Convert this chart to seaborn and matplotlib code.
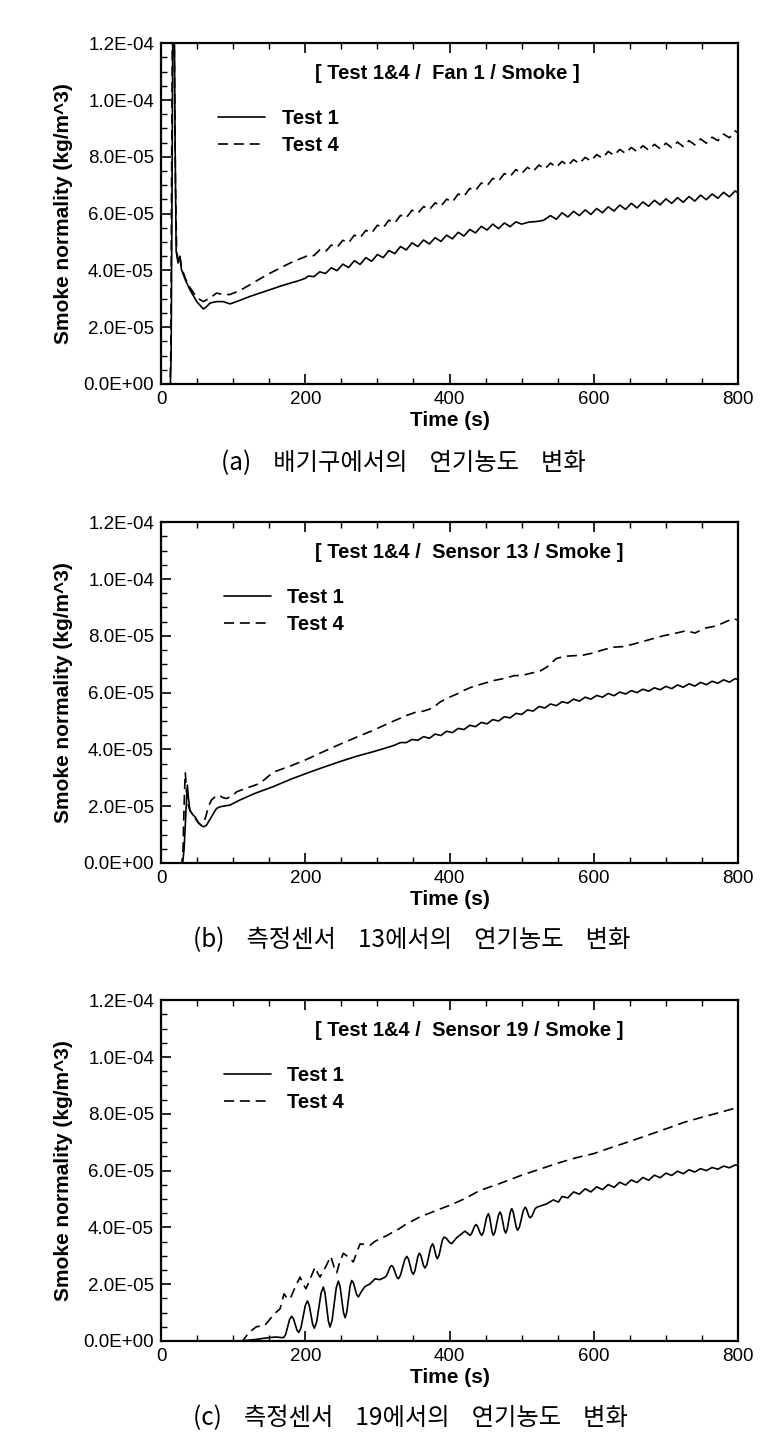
import matplotlib
matplotlib.use("Agg")
import matplotlib.pyplot as plt
from matplotlib.ticker import MultipleLocator, FuncFormatter
import pandas as pd
import seaborn as sns

# smoke values below are written in units of 1E-05 kg/m^3
UNIT = 1e-5

# --- (a) Fan 1 ---
FAN1_T1_TIME = [0, 13, 14, 15.5, 16.5, 17.5, 18.5, 19.5, 21, 23.6, 26, 28.4, 34, 40, 49.5, 58.7, 63, 68, 77, 86,
                95.7, 110, 123, 137, 151, 165, 179, 190, 200,
                204, 212, 220, 228, 236, 244, 252, 260, 268, 276, 284, 292, 300, 308, 316, 324, 332, 340, 348, 356,
                364, 372, 380, 388, 396, 404, 412, 420, 428, 436, 444, 452, 460, 468, 476, 484, 492, 500,
                510, 520, 530,
                540, 548, 556, 564, 572, 580, 588, 596, 604, 612, 620, 628, 636, 644, 652, 660, 668, 676, 684, 692,
                700, 708, 716, 724, 732, 740, 748, 756, 764, 772, 780, 788, 796, 800]
FAN1_T1_SMOKE = [0, 0, 1.0, 8.0, 13.5, 15.0, 12.5, 8.5, 4.67, 4.26, 4.5, 4.02, 3.65, 3.32, 2.9, 2.64, 2.72, 2.85, 2.9, 2.9,
                 2.82, 2.95, 3.08, 3.2, 3.32, 3.44, 3.55, 3.63, 3.72,
                 3.80, 3.78, 3.95, 3.89, 4.09, 3.99, 4.22, 4.10, 4.34, 4.21, 4.45, 4.32, 4.56, 4.45, 4.70, 4.59, 4.84, 4.72, 4.97, 4.84,
                 5.07, 4.93, 5.15, 5.02, 5.24, 5.11, 5.34, 5.21, 5.44, 5.32, 5.55, 5.42, 5.63, 5.47, 5.67, 5.54, 5.71, 5.63,
                 5.70, 5.72, 5.76,
                 5.93, 5.80, 6.03, 5.88, 6.08, 5.93, 6.13, 5.97, 6.18, 6.03, 6.24, 6.09, 6.30, 6.15, 6.36, 6.20, 6.41, 6.26, 6.47, 6.31,
                 6.52, 6.36, 6.56, 6.40, 6.60, 6.44, 6.65, 6.49, 6.69, 6.54, 6.75, 6.59, 6.80, 6.72]

FAN1_T4_TIME = [0, 12.5, 13.5, 15, 16, 17, 18, 19, 20, 21.7, 23.6, 26, 28.4, 34, 40, 48, 54, 58.7,
                68, 77, 86, 95.7, 110, 123, 137, 151, 165, 179, 190, 200,
                204, 212, 220, 228, 236, 244, 252, 260, 268, 276, 284, 292, 300, 308, 316, 324, 332, 340, 348, 356,
                364, 372, 380, 388, 396, 404, 412, 420, 428, 436, 444, 452, 460, 468, 476, 484, 492, 500, 508, 516,
                524, 532, 540, 548, 556, 564, 572, 580, 588, 596, 604, 612, 620, 628, 636, 644, 652, 660, 668, 676,
                684, 692, 700, 708, 716, 724, 732, 740, 748, 756, 764, 772, 780, 788, 796, 800]
FAN1_T4_SMOKE = [0, 0, 1.0, 9.0, 13.5, 15.0, 13.0, 10.0, 7.0, 4.67, 4.35, 4.55, 4.1, 3.7, 3.4, 3.1, 2.97, 2.9,
                 3.03, 3.2, 3.15, 3.15, 3.3, 3.49, 3.7, 3.9, 4.08, 4.26, 4.38, 4.48,
                 4.54, 4.52, 4.72, 4.66, 4.89, 4.81, 5.06, 4.97, 5.24, 5.15, 5.41, 5.32, 5.59, 5.50, 5.77, 5.67, 5.94, 5.85, 6.12, 6.01,
                 6.25, 6.14, 6.38, 6.26, 6.51, 6.41, 6.69, 6.61, 6.89, 6.81, 7.08, 6.98, 7.24, 7.15, 7.41, 7.31, 7.55, 7.41, 7.63, 7.49,
                 7.71, 7.57, 7.78, 7.63, 7.84, 7.69, 7.90, 7.76, 7.98, 7.85, 8.08, 7.95, 8.19, 8.05, 8.26, 8.12, 8.33, 8.18, 8.39, 8.24,
                 8.44, 8.28, 8.48, 8.32, 8.52, 8.36, 8.57, 8.42, 8.63, 8.48, 8.69, 8.57, 8.80, 8.67, 8.91, 8.85]

# --- (b) Sensor 13 ---
S13_T1_TIME = [0, 30, 32, 34.5, 36.5, 38, 40, 44, 47, 52, 56.4, 60, 63, 67, 70, 74, 77, 82, 86.4, 95.7,
               109.5, 130, 155.7, 180, 202, 225, 248, 270, 294.4, 318, 324,
               332, 340, 348, 356, 364, 372, 380, 388, 396, 404, 412, 420, 428, 436, 444, 452, 460, 468, 476, 484,
               492, 500, 508, 516, 524, 532, 540, 548, 556, 564, 572, 580, 588, 596, 604, 612, 620, 628, 636, 644,
               652, 660, 668, 676, 684, 692, 700, 708, 716, 724, 732, 740, 748, 756, 764, 772, 780, 788, 796, 800]
S13_T1_SMOKE = [0, 0, 0.5, 1.8, 2.74, 2.3, 1.86, 1.7, 1.63, 1.42, 1.3, 1.28, 1.33, 1.5, 1.63, 1.8, 1.92, 1.98, 2.0, 2.04,
                2.22, 2.45, 2.69, 2.95, 3.16, 3.37, 3.57, 3.75, 3.92, 4.1, 4.15,
                4.24, 4.24, 4.35, 4.32, 4.45, 4.39, 4.54, 4.49, 4.64, 4.59, 4.74, 4.70, 4.85, 4.80, 4.95, 4.90, 5.05, 5.00, 5.15, 5.11,
                5.27, 5.23, 5.39, 5.35, 5.51, 5.46, 5.60, 5.54, 5.68, 5.63, 5.77, 5.70, 5.84, 5.77, 5.90, 5.84, 5.97, 5.89, 6.02, 5.95,
                6.07, 6.00, 6.12, 6.05, 6.17, 6.10, 6.22, 6.14, 6.27, 6.19, 6.31, 6.23, 6.36, 6.28, 6.40, 6.33, 6.45, 6.37, 6.49, 6.46]

S13_T4_TIME = [0, 29, 30.5, 32.5, 33.7, 35, 37, 40, 44, 48, 52, 56, 59, 62, 66, 70, 75, 80, 86, 91,
               100, 105, 120, 137, 155.7, 180, 202, 225, 248, 270, 294, 318, 341, 352, 364, 376, 387, 395, 401, 410,
               420, 433, 447, 460, 470, 479, 490, 500, 512, 525, 535, 548, 560, 572, 585, 600, 612, 627, 640, 652,
               675, 696, 715, 728, 740, 756, 770, 787, 795, 800]
S13_T4_SMOKE = [0, 0, 0.5, 2.5, 3.17, 2.6, 2.1, 1.85, 1.7, 1.55, 1.4, 1.33, 1.42, 1.63, 2.0, 2.22, 2.33, 2.39, 2.3, 2.27,
                2.39, 2.51, 2.65, 2.8, 3.2, 3.42, 3.65, 3.92, 4.18, 4.42, 4.67, 4.95, 5.2, 5.3, 5.35, 5.45, 5.67, 5.78, 5.85, 5.95,
                6.08, 6.22, 6.32, 6.42, 6.47, 6.52, 6.6, 6.6, 6.68, 6.75, 6.9, 7.2, 7.28, 7.3, 7.32, 7.4, 7.5, 7.6, 7.62, 7.69,
                7.85, 8.0, 8.1, 8.18, 8.1, 8.28, 8.35, 8.54, 8.6, 8.55]

# --- (c) Sensor 19 ---
S19_T1_TIME = [0, 110, 130, 150, 160, 166, 170, 172.75, 175.5, 178.25,
               181, 183.5, 186, 188.5, 191, 194, 197, 200, 203, 205.4,
               207.8, 210.2, 212.6, 215.7, 218.8, 221.9, 225, 227.3, 229.7, 232,
               234.3, 237.2, 240, 242.9, 245.8, 248.2, 250.5, 252.9, 255.2, 257.5,
               259.8, 262.1, 264.4, 266.7, 269, 271.3, 273.6, 278, 282.9, 289.8,
               296.7, 303.6, 310.6, 312.9, 315.2, 317.5, 319.8, 322.1, 324.4, 326.7,
               329, 331.9, 334.85, 337.8, 340.7, 343, 345.25, 347.5, 349.8, 351.9,
               354, 356.1, 358.2, 360.2, 362.1, 364, 366, 368.6, 371.25, 373.9,
               376.5, 378.1, 379.75, 381.4, 383, 385.4, 387.7, 390, 392.4, 395,
               397.7, 400.4, 403, 406.5, 410, 415.75, 421.5, 425, 428.4, 430.5,
               432.6, 434.7, 436.8, 438.8, 440.75, 442.7, 444.7, 447, 449.25, 451.5,
               453.8, 455.5, 457.25, 459, 460.7, 463, 465.35, 467.7, 470, 472,
               473.9, 475.9, 477.8, 479.9, 482, 484.1, 486.2, 488.2, 490.3, 492.4,
               494.4, 497, 499.6, 502.2, 504.8, 506.5, 508.25, 510, 511.7, 514,
               516.35, 518.7, 521, 527.7, 534.8, 544, 550.9, 556, 564, 572,
               580, 588, 596, 604, 612, 620, 628, 636, 644, 652,
               660, 668, 676, 684, 692, 700, 708, 716, 724, 732,
               740, 748, 756, 764, 772, 780, 788, 796, 800]
S19_T1_SMOKE = [0, 0, 0.05, 0.12, 0.14, 0.12, 0.12, 0.23, 0.495, 0.76,
                0.87, 0.79, 0.585, 0.38, 0.3, 0.46, 0.855, 1.25, 1.41, 1.27,
                0.93, 0.59, 0.45, 0.66, 1.175, 1.69, 1.9, 1.69, 1.195, 0.70,
                0.49, 0.73, 1.3, 1.87, 2.11, 1.92, 1.465, 1.01, 0.82, 1.01,
                1.475, 1.94, 2.13, 2.05, 1.84, 1.63, 1.55, 1.75, 1.92, 2.01,
                2.19, 2.16, 2.25, 2.31, 2.455, 2.6, 2.66, 2.59, 2.425, 2.26,
                2.19, 2.31, 2.585, 2.86, 2.98, 2.89, 2.665, 2.44, 2.35, 2.46,
                2.72, 2.98, 3.09, 3.01, 2.83, 2.65, 2.57, 2.69, 2.995, 3.3,
                3.42, 3.34, 3.16, 2.98, 2.9, 3.01, 3.28, 3.55, 3.66, 3.63,
                3.545, 3.46, 3.43, 3.535, 3.64, 3.755, 3.87, 3.795, 3.72, 3.78,
                3.91, 4.04, 4.1, 4.04, 3.91, 3.78, 3.72, 3.83, 4.1, 4.37,
                4.48, 4.37, 4.1, 3.83, 3.72, 3.84, 4.13, 4.42, 4.54, 4.43,
                4.17, 3.91, 3.8, 3.93, 4.23, 4.53, 4.66, 4.55, 4.28, 4.01,
                3.9, 4.02, 4.3, 4.59, 4.71, 4.66, 4.525, 4.39, 4.34, 4.39,
                4.525, 4.66, 4.71, 4.77, 4.83, 4.97, 4.89, 5.09, 5.04, 5.25,
                5.17, 5.36, 5.25, 5.43, 5.33, 5.51, 5.41, 5.59, 5.49, 5.67,
                5.58, 5.76, 5.66, 5.84, 5.75, 5.91, 5.83, 5.98, 5.89, 6.03,
                5.95, 6.07, 6.00, 6.11, 6.05, 6.16, 6.10, 6.20, 6.18]

S19_T4_TIME = [0, 113, 122, 132, 144, 152, 158, 165, 170.5, 175, 179, 186, 192.7, 197, 201, 207, 213.5, 217, 220.4, 228,
               235.3, 240, 243.6, 248, 252.8, 260, 266.6, 271, 275.9, 282, 289.8, 296, 303.6, 312, 322, 330, 340.7, 350, 359, 370,
               382, 392, 400.7, 420, 442, 470, 498, 525, 551, 575, 600, 625, 650, 675, 701, 725, 750, 775, 800]
S19_T4_SMOKE = [0, 0, 0.3, 0.5, 0.55, 0.8, 0.98, 1.13, 1.66, 1.5, 1.48, 1.9, 2.25, 2.0, 1.84, 2.2, 2.6, 2.4, 2.25, 2.6,
                2.98, 2.6, 2.4, 2.8, 3.09, 2.95, 2.78, 3.1, 3.42, 3.4, 3.37, 3.5, 3.6, 3.7, 3.84, 3.95, 4.13, 4.25, 4.37, 4.48,
                4.6, 4.7, 4.78, 5.0, 5.3, 5.55, 5.82, 6.05, 6.27, 6.45, 6.6, 6.82, 7.03, 7.25, 7.48, 7.7, 7.88, 8.05, 8.23]

TITLES = ["[ Test 1&4 /  Fan 1 / Smoke ]",
          "[ Test 1&4 /  Sensor 13 / Smoke ]",
          "[ Test 1&4 /  Sensor 19 / Smoke ]"]
CAPTIONS = ["(a)    배기구에서의    연기농도    변화",
            "(b)    측정센서    13에서의    연기농도    변화",
            "(c)    측정센서    19에서의    연기농도    변화"]
TEST_LABELS = ["Test 1", "Test 4"]


def make_frame(t1_time, t1_smoke, t4_time, t4_smoke):
    """Long-form frame with both tests of one panel."""
    df1 = pd.DataFrame({"time": t1_time, "smoke": t1_smoke, "test": TEST_LABELS[0]})
    df4 = pd.DataFrame({"time": t4_time, "smoke": t4_smoke, "test": TEST_LABELS[1]})
    df = pd.concat([df1, df4], ignore_index=True)
    df["smoke"] = df["smoke"] * UNIT
    return df


def draw_panel(ax, df, title, legend_x):
    sns.lineplot(data=df, x="time", y="smoke", style="test", style_order=TEST_LABELS,
                 dashes={"Test 1": "", "Test 4": (6, 3.5)}, color="black", lw=1.2,
                 estimator=None, sort=False, legend=False, ax=ax)

    ax.set_xlim(0, 800)
    ax.set_ylim(0, 1.2e-4)
    ax.xaxis.set_major_locator(MultipleLocator(200))
    ax.xaxis.set_minor_locator(MultipleLocator(50))
    ax.yaxis.set_major_locator(MultipleLocator(2e-5))
    ax.yaxis.set_minor_locator(MultipleLocator(5e-6))
    ax.yaxis.set_major_formatter(FuncFormatter(lambda v, p: f"{v:.1E}"))

    ax.tick_params(which="both", direction="in", top=True, right=False, colors="black")
    ax.tick_params(which="major", length=7, width=1.2, labelsize=13.5, pad=5)
    ax.tick_params(which="minor", length=4, width=1.0)
    for spine in ax.spines.values():
        spine.set_visible(True)
        spine.set_linewidth(1.6)
        spine.set_color("black")

    ax.set_xlabel("Time (s)", fontsize=15, fontweight="bold")
    ax.set_ylabel("Smoke normality (kg/m^3)", fontsize=15, fontweight="bold")
    ax.xaxis.set_label_coords(0.5, -0.078)
    ax.yaxis.set_label_coords(-0.152, 0.5)

    ax.text(0.267, 0.91, title, transform=ax.transAxes, ha="left", va="center",
            fontsize=14.5, fontweight="bold")

    ax.legend(handles=ax.get_lines()[:2], labels=TEST_LABELS, loc="upper left",
              bbox_to_anchor=(legend_x, 0.806), frameon=False, borderpad=0, borderaxespad=0,
              handlelength=2.35, handletextpad=0.8, labelspacing=0.38,
              prop={"weight": "bold", "size": 14.5})


sns.set_style("ticks", rc={"axes.edgecolor": "black", "text.color": "black",
                           "axes.labelcolor": "black", "xtick.color": "black", "ytick.color": "black"})
plt.rcParams["font.family"] = ["Liberation Sans", "Noto Sans CJK KR", "DejaVu Sans"]

fig = plt.figure(figsize=(7.84, 14.56), dpi=100)
fig.patch.set_facecolor("white")

frames = [make_frame(FAN1_T1_TIME, FAN1_T1_SMOKE, FAN1_T4_TIME, FAN1_T4_SMOKE),
          make_frame(S13_T1_TIME, S13_T1_SMOKE, S13_T4_TIME, S13_T4_SMOKE),
          make_frame(S19_T1_TIME, S19_T1_SMOKE, S19_T4_TIME, S19_T4_SMOKE)]

# axes boxes in figure fractions, captions below each one
axes_bottoms = [0.7363, 0.4073, 0.0790]
legend_xs = [0.099, 0.109, 0.109]
caption_pos = [(0.515, 0.682), (0.525, 0.354), (0.524, 0.026)]

for i in range(3):
    ax = fig.add_axes([0.2054, axes_bottoms[i], 0.7360, 0.2340])
    draw_panel(ax, frames[i], TITLES[i], legend_xs[i])
    fig.text(caption_pos[i][0], caption_pos[i][1], CAPTIONS[i], ha="center", va="center",
             fontsize=17.5, family=["Noto Sans CJK KR", "DejaVu Sans"])

fig.savefig("out.png", dpi=100, facecolor="white")
